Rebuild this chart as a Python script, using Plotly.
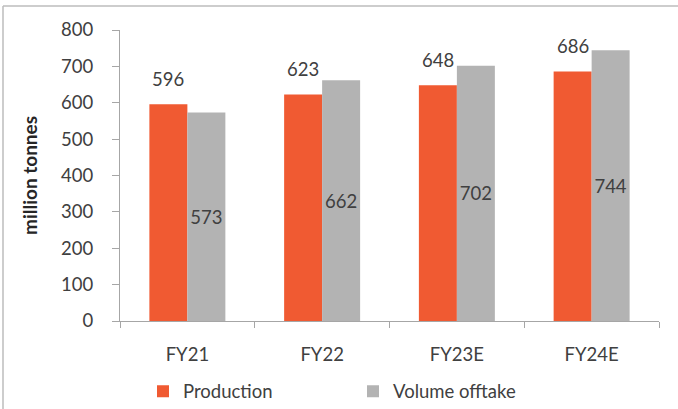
import plotly.graph_objects as go

categories = ["FY21", "FY22", "FY23E", "FY24E"]
production = [596, 623, 648, 686]
offtake = [573, 662, 702, 744]
y_ticks = [0, 100, 200, 300, 400, 500, 600, 700, 800]

ORANGE = "#F05A32"
GREY = "#B3B3B3"
TXT = "#404040"
FONT = "Lato"
FS = 18.5

W, H = 678, 409
L, R, T, B = 120, 19, 30, 88
PW, PH = W - L - R, H - T - B

fig = go.Figure()
fig.add_trace(go.Bar(
    x=categories, y=production, name="Production",
    marker=dict(color=ORANGE, line=dict(width=0)),
))
fig.add_trace(go.Bar(
    x=categories, y=offtake, name="Volume offtake",
    marker=dict(color=GREY, line=dict(width=0)),
    text=[str(v) for v in offtake], textposition="inside",
    insidetextanchor="middle", textangle=0, constraintext="none",
    textfont=dict(family=FONT, size=FS, color=TXT),
))

bargap = 0.436
cat_w = PW / len(categories)
bar_w = cat_w * (1 - bargap) / 2

annotations = []
for c, v in zip(categories, production):
    annotations.append(dict(
        x=c, y=v, xref="x", yref="y", text=str(v), showarrow=False,
        xshift=-bar_w / 2, yshift=12, yanchor="bottom",
        font=dict(family=FONT, size=FS, color=TXT),
    ))

line_col = "#A6A6A6"
shapes = [
    dict(type="line", xref="paper", yref="paper",
         x0=(3 - L) / PW, x1=(W - L) / PW, y0=(H - B - 6) / PH, y1=(H - B - 6) / PH,
         line=dict(color="#BDBDBD", width=1.5)),
    dict(type="line", xref="paper", yref="paper",
         x0=(3 - L) / PW, x1=(3 - L) / PW, y0=(H - B - 6) / PH, y1=(H - B - H) / PH,
         line=dict(color="#BDBDBD", width=1.5)),
]

fig.update_layout(
    width=W, height=H,
    margin=dict(l=L, r=R, t=T, b=B, autoexpand=False),
    paper_bgcolor="white", plot_bgcolor="white",
    barmode="group", bargap=bargap, bargroupgap=0,
    font=dict(family=FONT, size=FS, color=TXT),
    showlegend=True,
    legend=dict(
        orientation="h", x=(143 - L) / PW, xanchor="left",
        y=(H - B - 391.7) / PH, yanchor="middle",
        font=dict(family=FONT, size=FS, color=TXT),
        entrywidth=165, traceorder="normal",
        bgcolor="rgba(0,0,0,0)",
    ),
    annotations=annotations,
    shapes=shapes,
)

fig.update_yaxes(
    range=[0, 800], tickvals=y_ticks, showgrid=False, zeroline=False,
    showline=True, linecolor=line_col, linewidth=1.2,
    ticks="outside", ticklen=7, tickcolor=line_col, tickwidth=1.2,
    ticklabelstandoff=15,
    tickfont=dict(family=FONT, size=FS, color=TXT),
    title=dict(text="million tonnes", standoff=18,
               font=dict(family=FONT, size=19, color="#262626", weight="bold")),
)
fig.update_xaxes(
    showgrid=False, showline=True, linecolor=line_col, linewidth=1.2,
    ticks="outside", ticklen=6, tickcolor=line_col, tickwidth=1.2,
    tickson="boundaries", ticklabelstandoff=17,
    tickfont=dict(family=FONT, size=FS, color=TXT),
)

fig.write_html("out.html")
